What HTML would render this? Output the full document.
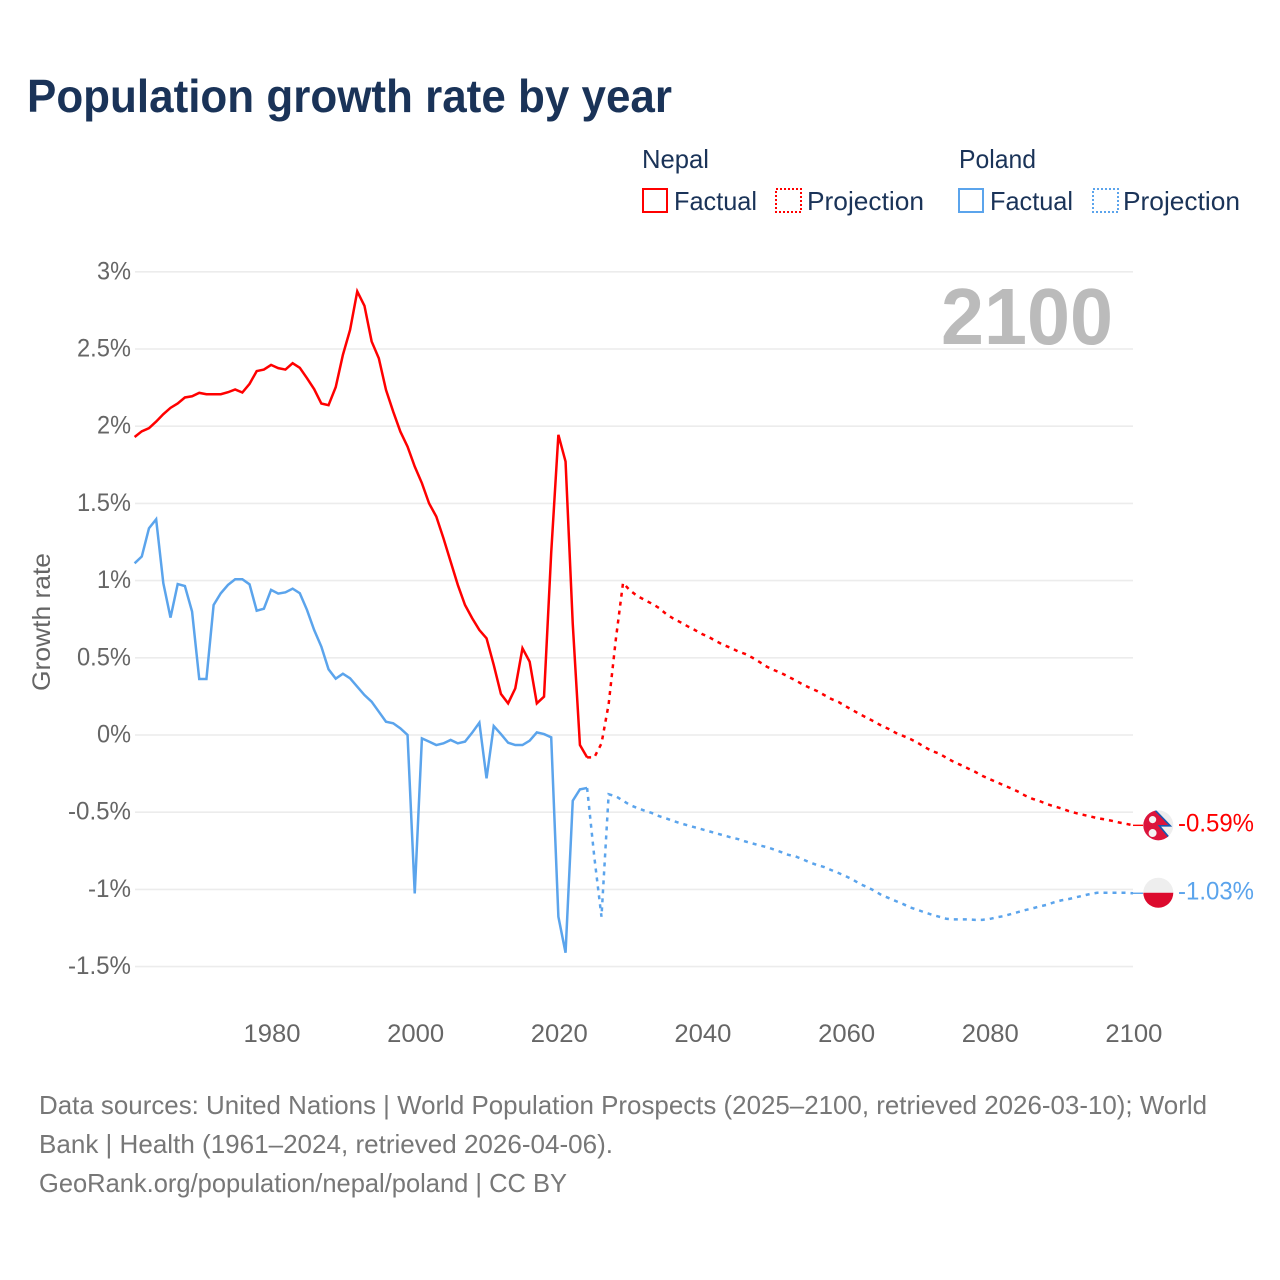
<!DOCTYPE html>
<html lang="en">
<head>
<meta charset="utf-8">
<title>Population growth rate by year</title>
<style>
html,body{margin:0;padding:0;background:#fff;}
svg{display:block;}
text{font-family:"Liberation Sans",sans-serif;}
</style>
</head>
<body>
<svg id="chart" xmlns="http://www.w3.org/2000/svg" width="1280" height="1280" viewBox="0 0 1280 1280">
  <rect width="1280" height="1280" fill="#fff"/>
  <text x="27" y="112" font-size="46" font-weight="700" fill="#1a3358" textLength="645" lengthAdjust="spacingAndGlyphs">Population growth rate by year</text>

  <g font-size="26" fill="#1a3358">
    <text x="642" y="168" textLength="67" lengthAdjust="spacingAndGlyphs">Nepal</text>
    <rect x="643" y="189" width="24" height="23" fill="none" stroke="#ff0000" stroke-width="2"/>
    <text x="674" y="210" textLength="83" lengthAdjust="spacingAndGlyphs">Factual</text>
    <rect x="776" y="189" width="25" height="23" fill="none" stroke="#ff0000" stroke-width="2" stroke-dasharray="2 2"/>
    <text x="807" y="210" textLength="117" lengthAdjust="spacingAndGlyphs">Projection</text>
    <text x="959" y="168" textLength="77" lengthAdjust="spacingAndGlyphs">Poland</text>
    <rect x="959" y="189" width="24" height="23" fill="none" stroke="#5ba4ec" stroke-width="2"/>
    <text x="990" y="210" textLength="83" lengthAdjust="spacingAndGlyphs">Factual</text>
    <rect x="1093" y="189" width="25" height="23" fill="none" stroke="#5ba4ec" stroke-width="2" stroke-dasharray="2 2"/>
    <text x="1123" y="210" textLength="117" lengthAdjust="spacingAndGlyphs">Projection</text>
  </g>

  <g id="grid"></g>
  <g id="yLabels" font-size="25" fill="#666"></g>
  <g id="xLabels" font-size="25" fill="#666"></g>

  <text transform="translate(50,622) rotate(-90)" text-anchor="middle" font-size="25" fill="#666" textLength="138" lengthAdjust="spacingAndGlyphs">Growth rate</text>
  <text x="941" y="344" font-size="80" font-weight="700" fill="#bbbbbb" textLength="172" lengthAdjust="spacingAndGlyphs">2100</text>

  <g id="series"></g>

  <defs>
    <clipPath id="flagClip"><circle cx="0" cy="0" r="15"/></clipPath>
  </defs>
  <g id="flagNepal">
    <g clip-path="url(#flagClip)">
      <rect x="-16" y="-16" width="32" height="32" fill="#eeeeee"/>
      <polygon points="-20,-17 -5,-17 12,0.5 1,0.5 14,16 14,18 -20,18" fill="#dc143c" stroke="#1558b0" stroke-width="1.6"/>
      <circle cx="-5.7" cy="-5.7" r="3.6" fill="#f4f4f4"/>
      <circle cx="-5.7" cy="7.7" r="4" fill="#f4f4f4"/>
    </g>
  </g>
  <g id="flagPoland">
    <g clip-path="url(#flagClip)">
      <rect x="-16" y="-16" width="32" height="16" fill="#eeeeee"/>
      <rect x="-16" y="0" width="32" height="16" fill="#dc0a2d"/>
    </g>
  </g>
  <text id="labelNepal" x="1178" font-size="25" fill="#ff0000" textLength="76" lengthAdjust="spacingAndGlyphs"></text>
  <text id="labelPoland" x="1178" font-size="25" fill="#5ba4ec" textLength="76" lengthAdjust="spacingAndGlyphs"></text>

  <g font-size="26" fill="#777">
    <text x="39" y="1114" textLength="1168" lengthAdjust="spacingAndGlyphs">Data sources: United Nations | World Population Prospects (2025–2100, retrieved 2026-03-10); World</text>
    <text x="39" y="1153" textLength="574" lengthAdjust="spacingAndGlyphs">Bank | Health (1961–2024, retrieved 2026-04-06).</text>
    <text x="39" y="1192" textLength="528" lengthAdjust="spacingAndGlyphs">GeoRank.org/population/nepal/poland | CC BY</text>
  </g>
</svg>
<script>
const yTicks = [3, 2.5, 2, 1.5, 1, 0.5, 0, -0.5, -1, -1.5];
const yTickLabels = ["3%", "2.5%", "2%", "1.5%", "1%", "0.5%", "0%", "-0.5%", "-1%", "-1.5%"];
const xTicks = [1980, 2000, 2020, 2040, 2060, 2080, 2100];
const endLabels = ["-0.59%", "-1.03%"];

const factualYears = [1961,1962,1963,1964,1965,1966,1967,1968,1969,1970,1971,1972,1973,1974,1975,1976,1977,1978,1979,1980,1981,1982,1983,1984,1985,1986,1987,1988,1989,1990,1991,1992,1993,1994,1995,1996,1997,1998,1999,2000,2001,2002,2003,2004,2005,2006,2007,2008,2009,2010,2011,2012,2013,2014,2015,2016,2017,2018,2019,2020,2021,2022,2023,2024];
const nepalFactual = [1.93,1.967,1.987,2.03,2.078,2.119,2.147,2.186,2.194,2.216,2.207,2.207,2.207,2.22,2.238,2.218,2.274,2.357,2.367,2.397,2.376,2.367,2.408,2.378,2.311,2.24,2.147,2.136,2.253,2.462,2.624,2.873,2.78,2.549,2.44,2.235,2.095,1.965,1.868,1.739,1.631,1.5,1.415,1.274,1.123,0.972,0.842,0.756,0.68,0.626,0.454,0.266,0.205,0.302,0.562,0.475,0.205,0.248,1.18,1.944,1.771,0.72,-0.065,-0.145];
const polandFactual = [1.112,1.156,1.339,1.397,0.983,0.76,0.978,0.965,0.8,0.363,0.363,0.842,0.918,0.972,1.009,1.009,0.976,0.805,0.818,0.94,0.916,0.924,0.948,0.918,0.81,0.68,0.572,0.426,0.365,0.397,0.367,0.313,0.259,0.216,0.151,0.086,0.076,0.043,0,-1.026,-0.022,-0.043,-0.065,-0.054,-0.032,-0.054,-0.043,0.015,0.08,-0.281,0.058,0.006,-0.05,-0.065,-0.065,-0.037,0.017,0.006,-0.015,-1.177,-1.41,-0.426,-0.352,-0.343];

const projectionYears = [2024,2025,2026,2027,2028,2029,2030,2031,2032,2033,2034,2035,2036,2037,2038,2039,2040,2041,2042,2043,2044,2045,2046,2047,2048,2049,2050,2051,2052,2053,2054,2055,2056,2057,2058,2059,2060,2061,2062,2063,2064,2065,2066,2067,2068,2069,2070,2071,2072,2073,2074,2075,2076,2077,2078,2079,2080,2081,2082,2083,2084,2085,2086,2087,2088,2089,2090,2091,2092,2093,2094,2095,2096,2097,2098,2099,2100];
const nepalProjection = [-0.145,-0.145,-0.055,0.2,0.62,0.985,0.935,0.9,0.875,0.851,0.823,0.784,0.754,0.73,0.704,0.68,0.654,0.633,0.607,0.583,0.564,0.542,0.525,0.501,0.473,0.443,0.421,0.402,0.378,0.354,0.328,0.305,0.285,0.259,0.233,0.214,0.186,0.16,0.134,0.11,0.086,0.06,0.039,0.013,-0.006,-0.026,-0.05,-0.078,-0.104,-0.12,-0.147,-0.173,-0.194,-0.216,-0.238,-0.264,-0.285,-0.305,-0.326,-0.345,-0.367,-0.393,-0.413,-0.428,-0.447,-0.462,-0.475,-0.492,-0.505,-0.516,-0.527,-0.538,-0.546,-0.555,-0.566,-0.575,-0.585];
const polandProjection = [-0.343,-0.789,-1.177,-0.384,-0.397,-0.426,-0.454,-0.473,-0.49,-0.505,-0.525,-0.54,-0.557,-0.572,-0.585,-0.598,-0.611,-0.624,-0.637,-0.65,-0.663,-0.674,-0.689,-0.702,-0.715,-0.726,-0.741,-0.758,-0.776,-0.786,-0.805,-0.825,-0.842,-0.855,-0.875,-0.894,-0.914,-0.937,-0.965,-0.985,-1.009,-1.037,-1.056,-1.076,-1.095,-1.117,-1.132,-1.149,-1.164,-1.177,-1.19,-1.194,-1.194,-1.194,-1.197,-1.197,-1.192,-1.181,-1.173,-1.16,-1.147,-1.134,-1.123,-1.11,-1.1,-1.084,-1.071,-1.063,-1.052,-1.041,-1.03,-1.022,-1.022,-1.022,-1.022,-1.022,-1.025];

const SVGNS = "http://www.w3.org/2000/svg";
function xScale(year) { return 134.6 + (year - 1961) * (998.4 / 139); }
function yScale(value) { return 735 - value * 154.4; }
function pathFrom(years, values) {
  return values.map(function (v, i) {
    return (i ? "L" : "M") + xScale(years[i]).toFixed(2) + " " + yScale(v).toFixed(2);
  }).join(" ");
}
function make(tag, attrs) {
  const el = document.createElementNS(SVGNS, tag);
  Object.keys(attrs).forEach(function (k) { el.setAttribute(k, attrs[k]); });
  return el;
}
function tickWidth(label) {
  let w = 0;
  for (const c of label) {
    w += c === "%" ? 19.5 : c === "." ? 5.5 : c === "-" ? 9 : 14.5;
  }
  return w;
}

const gridGroup = document.getElementById("grid");
const yLabelGroup = document.getElementById("yLabels");
yTicks.forEach(function (t, i) {
  const y = yScale(t);
  const line = make("line", { x1: 135, x2: 1133, y1: y, y2: y, stroke: "#ececec", "stroke-width": 1.6 });
  
  
  gridGroup.appendChild(line);
  const w = tickWidth(yTickLabels[i]);
  const label = make("text", { x: 131 - w, y: y + 7.5, textLength: w, lengthAdjust: "spacingAndGlyphs" });
  
  
  label.textContent = yTickLabels[i];
  yLabelGroup.appendChild(label);
});

const xLabelGroup = document.getElementById("xLabels");
xTicks.forEach(function (t) {
  const label = make("text", { x: xScale(t) - 27.6, y: 1042, textLength: 57, lengthAdjust: "spacingAndGlyphs" });
  
  
  label.textContent = String(t);
  xLabelGroup.appendChild(label);
});

const seriesGroup = document.getElementById("series");
const NEPAL_COLOR = "#ff0000";
const POLAND_COLOR = "#5ba4ec";

const nepalProjectionLine = make("path", { d: pathFrom(projectionYears, nepalProjection), fill: "none", stroke: NEPAL_COLOR, "stroke-width": 2.5, "stroke-dasharray": "4 5" });


seriesGroup.appendChild(nepalProjectionLine);

const polandProjectionLine = make("path", { d: pathFrom(projectionYears, polandProjection), fill: "none", stroke: POLAND_COLOR, "stroke-width": 2.5, "stroke-dasharray": "4 5" });


seriesGroup.appendChild(polandProjectionLine);

const nepalFactualLine = make("path", { d: pathFrom(factualYears, nepalFactual), fill: "none", stroke: NEPAL_COLOR, "stroke-width": 2.5, "stroke-linejoin": "miter" });


seriesGroup.appendChild(nepalFactualLine);

const polandFactualLine = make("path", { d: pathFrom(factualYears, polandFactual), fill: "none", stroke: POLAND_COLOR, "stroke-width": 2.5, "stroke-linejoin": "miter" });


seriesGroup.appendChild(polandFactualLine);

const nepalEnd = nepalProjection[nepalProjection.length - 1];
const polandEnd = polandProjection[polandProjection.length - 1];

const nepalConnector = make("line", { x1: xScale(2100), x2: 1143, y1: yScale(nepalEnd), y2: yScale(nepalEnd), stroke: NEPAL_COLOR, "stroke-width": 1.4 });


seriesGroup.appendChild(nepalConnector);

const polandConnector = make("line", { x1: xScale(2100), x2: 1143, y1: yScale(polandEnd), y2: yScale(polandEnd), stroke: POLAND_COLOR, "stroke-width": 1.4 });


seriesGroup.appendChild(polandConnector);

document.getElementById("flagNepal").setAttribute("transform", "translate(1158.3," + yScale(nepalEnd) + ")");
document.getElementById("flagPoland").setAttribute("transform", "translate(1158.3," + (yScale(polandEnd) - 0.5) + ")");

const labelNepal = document.getElementById("labelNepal");
labelNepal.setAttribute("y", yScale(nepalEnd) + 6);
labelNepal.textContent = endLabels[0];
const labelPoland = document.getElementById("labelPoland");
labelPoland.setAttribute("y", yScale(polandEnd) + 6);
labelPoland.textContent = endLabels[1];
</script>
</body>
</html>
